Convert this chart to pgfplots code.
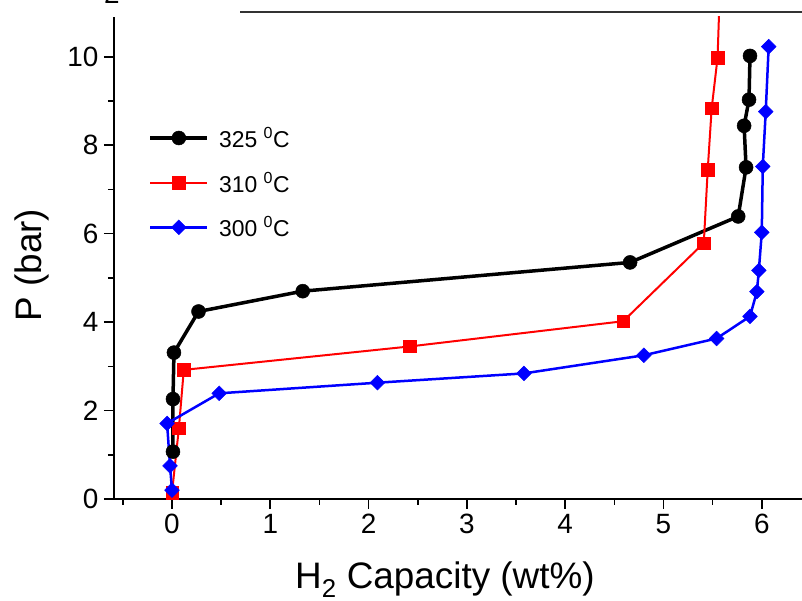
\documentclass[border=0pt]{standalone}
\usepackage{fontspec}
\setmainfont{Liberation Sans}
\usepackage{pgfplots}
\pgfplotsset{compat=1.18}
\begin{document}
\begin{tikzpicture}
\useasboundingbox (-114bp,-102bp) rectangle (688bp,499bp);
\begin{axis}[
  at={(0,0)}, anchor=south west,
  scale only axis, width=688bp, height=482bp,
  xmin=-0.590, xmax=6.409, ymin=0, ymax=10.90,
  axis x line*=bottom, axis y line*=left,
  axis line style={line width=2bp, -},
  every tick/.style={line width=1.6bp, black},
  tick align=outside,
  major tick length=10bp, minor tick length=6bp,
  xtick={0,1,2,3,4,5,6}, minor xtick={-0.5,0.5,1.5,2.5,3.5,4.5,5.5},
  ytick={0,2,4,6,8,10}, minor ytick={1,3,5,7,9},
  /pgf/number format/assume math mode=true,
  tick label style={font=\fontsize{28}{32}\selectfont},
  xticklabel style={yshift=-2bp},
  yticklabel style={xshift=-2bp},
  xlabel={H\textsubscript{2} Capacity (wt\%)},
  ylabel={P (bar)},
  label style={font=\fontsize{37}{40}\selectfont},
  xlabel style={at={(axis description cs:0.481,0)}, anchor=base, yshift=-89bp},
  ylabel style={at={(axis description cs:0,0.485)}, anchor=base, yshift=72bp},
  legend style={draw=none, fill=none, at={(axis description cs:0.050,0.776)}, anchor=north west,
    font=\fontsize{23}{27}\selectfont, row sep=19bp, inner sep=0pt,
    /tikz/every odd column/.append style={column sep=8bp}},
  legend cell align=left,
  legend image code/.code={\draw[mark repeat=2,mark phase=2] plot coordinates {(0bp,0bp) (28.5bp,0bp) (57bp,0bp)};},
]
\addplot[black, line width=3.5bp, mark=*, mark size=7bp, mark options={solid, fill=black, line width=0.5bp}] coordinates {
(0.01,1.07) (0.01,2.26) (0.02,3.31) (0.27,4.24) (1.33,4.70) (4.66,5.35)
(5.76,6.39) (5.84,7.50) (5.82,8.44) (5.87,9.03) (5.88,10.02)};
\addlegendentry{325 \textsuperscript{0}C}
\addplot[red, line width=2bp, mark=square*, mark size=6.2bp, mark options={solid, fill=red, line width=0.5bp}] coordinates {
(0.00,0.14) (0.07,1.60) (0.12,2.92) (2.42,3.45) (4.59,4.02) (5.41,5.79)
(5.45,7.45) (5.49,8.83) (5.55,9.98) (5.57,11.30)};
\addlegendentry{310 \textsuperscript{0}C}
\addplot[blue, line width=2.5bp, mark=square*, mark size=5.2bp, mark options={solid, fill=blue, rotate=45, line width=0.5bp}] coordinates {
(0.00,0.20) (-0.02,0.75) (-0.05,1.71) (0.48,2.39) (2.09,2.63) (3.58,2.84)
(4.80,3.25) (5.54,3.63) (5.88,4.13) (5.95,4.69) (5.97,5.17) (6.00,6.03)
(6.01,7.52) (6.04,8.76) (6.07,10.23)};
\addlegendentry{300 \textsuperscript{0}C}
\end{axis}
\draw[line width=2bp, black!80] (126bp,487bp) -- (688bp,487bp);
\node[anchor=base, inner sep=0pt, font=\fontsize{28}{30}\selectfont] at (-2bp,495bp) {2};
\end{tikzpicture}
\end{document}
